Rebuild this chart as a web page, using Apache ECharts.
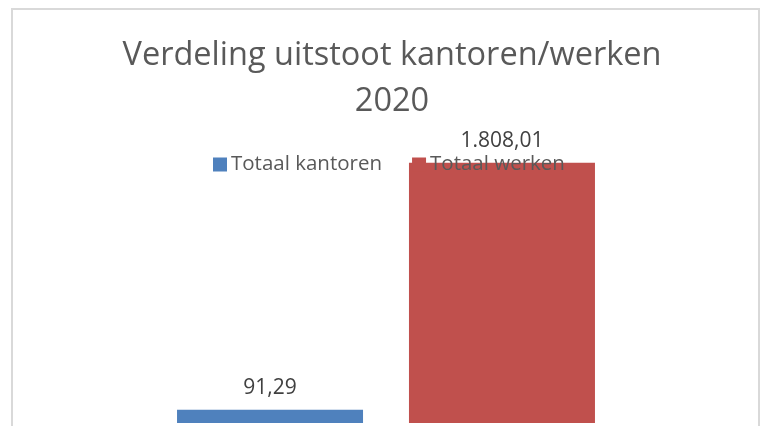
<!DOCTYPE html>
<html>
<head>
<meta charset="utf-8">
<script src="https://cdn.jsdelivr.net/npm/echarts@6/dist/echarts.min.js"></script>
<style>
  html, body { margin: 0; padding: 0; background: #fff; }
  #chart { width: 763px; height: 426px; }
</style>
</head>
<body>
<div id="chart"></div>
<script>
var titleText = 'Verdeling uitstoot kantoren/werken\n2020';
var categories = ['2020'];
var seriesNames = ['Totaal kantoren', 'Totaal werken'];
var kantoren = [91.29];
var werken = [1808.01];
var seriesColors = ['#4f81bd', '#c0504d'];

// dutch number format: 1.808,01
function nlFormat(v) {
	var parts = v.toFixed(2).split('.');
	var whole = parts[0].replace(/\B(?=(\d{3})+(?!\d))/g, '.');
	return whole + ',' + parts[1];
}

var myChart = echarts.init(document.getElementById('chart'));

var labelStyle = {
	show: true,
	position: 'top',
	distance: 11,
	color: '#404040',
	fontFamily: 'Open Sans',
	fontSize: 21,
	formatter: function(p) { return nlFormat(p.value); }
};

var option = {
	animation: false,
	backgroundColor: '#fff',
	title: {
		text: titleText,
		left: 387,
		top: 28,
		textAlign: 'center',
		textStyle: {
			color: '#595959',
			fontFamily: 'Open Sans',
			fontWeight: 'normal',
			fontSize: 32.5,
			lineHeight: 46
		}
	},
	legend: {
		left: 208,
		top: 149,
		itemWidth: 14,
		itemHeight: 14,
		itemGap: 30,
		icon: 'rect',
		textStyle: {
			color: '#595959',
			fontFamily: 'Open Sans',
			fontSize: 20.5,
			padding: [0, 0, 0, -1]
		},
		data: seriesNames
	},
	graphic: [{
		type: 'rect',
		silent: true,
		z: -1,
		shape: { x: 12, y: 9, width: 747, height: 440 },
		style: { fill: 'none', stroke: '#d9d9d9', lineWidth: 2 }
	}],
	grid: { left: 13, right: 4, top: 135, bottom: 3 },
	xAxis: {
		type: 'category',
		data: categories,
		show: false
	},
	yAxis: {
		type: 'value',
		min: 0,
		max: 2000,
		show: false,
		splitLine: { show: false }
	},
	series: [{
		name: seriesNames[0],
		type: 'bar',
		data: kantoren,
		barWidth: 186,
		barGap: '24.7%',
		itemStyle: { color: seriesColors[0] },
		label: labelStyle
	}, {
		name: seriesNames[1],
		type: 'bar',
		data: werken,
		barWidth: 186,
		itemStyle: { color: seriesColors[1] },
		label: labelStyle
	}]
};

myChart.setOption(option);
</script>
</body>
</html>
